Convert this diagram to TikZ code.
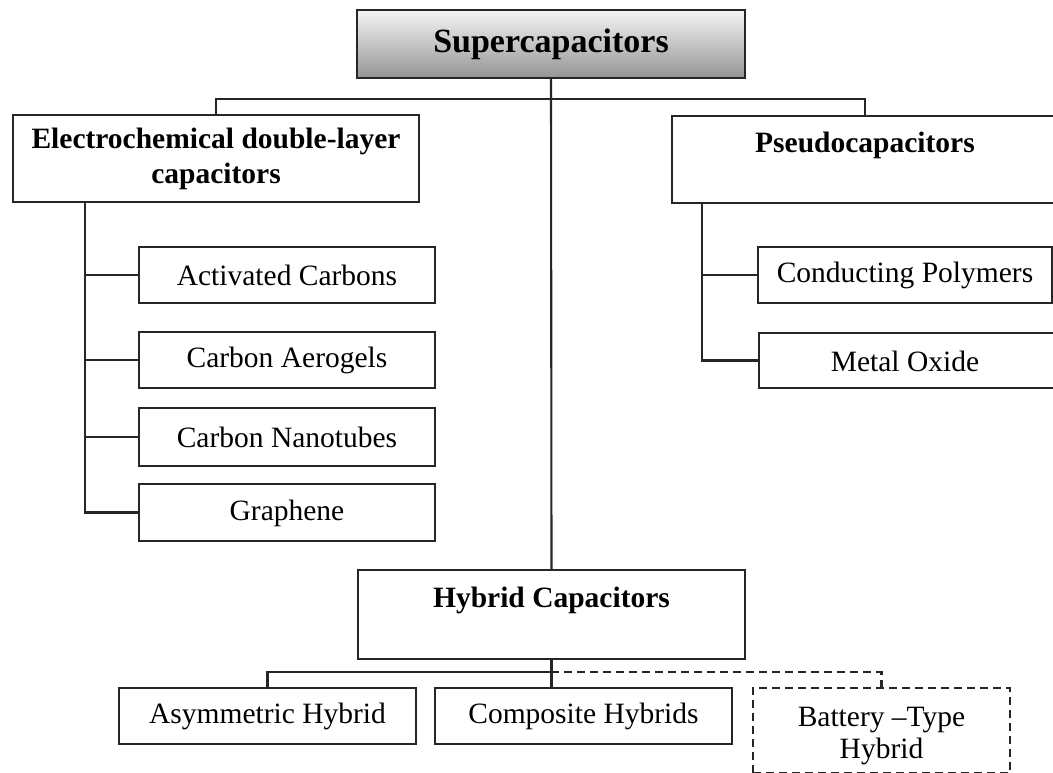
\documentclass[tikz,border=0pt]{standalone}
\usepackage{fontspec}
\setmainfont{Liberation Serif}
\begin{document}
\begin{tikzpicture}[x=1pt,y=-1pt,
  box/.style={draw=black!85, line width=2.1pt, rectangle, inner sep=0pt, align=center,
    font=\fontsize{29.5}{35}\selectfont},
  head/.style={box, font=\fontsize{29.5}{35}\selectfont\bfseries},
  dbox/.style={box, dash pattern=on 8pt off 5pt, font=\fontsize{29.5}{32}\selectfont},
  link/.style={draw=black!85, line width=2.1pt},
  dlink/.style={link, dash pattern=on 8pt off 5pt}]
\useasboundingbox (0,0) rectangle (1053,772);

% top
\node[box, top color=black!4, bottom color=black!42, minimum width=388, minimum height=68,
  font=\fontsize{34}{40}\selectfont\bfseries] (top) at (551,44) {Supercapacitors};

% EDLC branch
\node[head, minimum width=406, minimum height=87] (edlc) at (216,158.5)
  {Electrochemical double-layer\\capacitors};
\node[box, minimum width=296, minimum height=56] (ac) at (287,275) {Activated Carbons};
\node[box, minimum width=296, minimum height=56] (ae) at (287,360) {\rule{0pt}{22pt}Carbon Aerogels};
\node[box, minimum width=296, minimum height=58] (nt) at (287,437) {Carbon Nanotubes};
\node[box, minimum width=296, minimum height=57] (gr) at (287,512.5) {\rule{0pt}{22pt}Graphene};

% Pseudo branch
\node[head, minimum width=386, minimum height=87] (ps) at (865,159.5)
  {Pseudocapacitors\\\mbox{}};
\node[box, minimum width=294, minimum height=56] (cp) at (905,275) {\rule{0pt}{22pt}Conducting Polymers};
\node[box, minimum width=300, minimum height=55] (mo) at (909,360.5) {\hspace*{-8pt}\rule{0pt}{22pt}Metal Oxide};

% Hybrid branch
\node[head, minimum width=387, minimum height=89] (hy) at (551.5,614.5)
  {Hybrid Capacitors\\\mbox{}};
\node[box, minimum width=297, minimum height=56] (as) at (267.5,716) {Asymmetric Hybrid};
\node[box, minimum width=297, minimum height=56] (co) at (583.5,716) {Composite Hybrids};
\node[dbox, minimum width=257, minimum height=85] (bt) at (881.5,730.5)
  {\rule{0pt}{31pt}Battery \textendash Type\\Hybrid};

% coordinates for buses and trunks
\coordinate (bus) at (551,99);
\coordinate (eT) at (85,0);
\coordinate (pT) at (702,0);
\coordinate (hbus) at (551,672);

% connectors
\draw[link] (top.south) -- (hy.north);
\draw[link] (edlc.north) -- (edlc.north |- bus) -- (ps.north |- bus) -- (ps.north);

\draw[link] (edlc.south -| eT) |- (gr.west);
\draw[link] (eT |- ac.west) -- (ac.west);
\draw[link] (eT |- ae.west) -- (ae.west);
\draw[link] (eT |- nt.west) -- (nt.west);

\draw[link] (ps.south -| pT) |- (mo.west);
\draw[link] (pT |- cp.west) -- (cp.west);

\draw[link] (hy.south) -- (hy.south |- co.north);
\draw[link] (as.north) |- (hbus);
\draw[dlink] (hbus) -| (bt.north);
\end{tikzpicture}
\end{document}
